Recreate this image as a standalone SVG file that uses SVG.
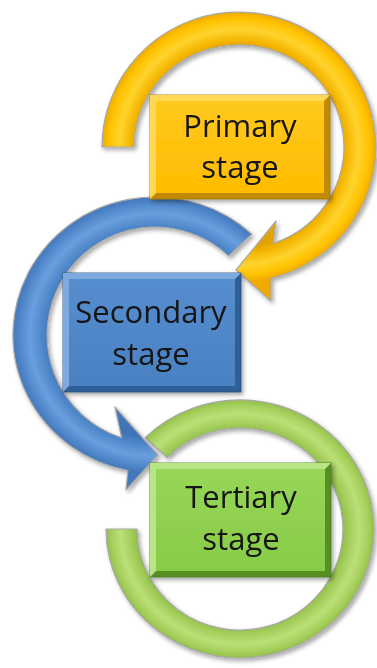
<svg xmlns="http://www.w3.org/2000/svg" width="377" height="668" viewBox="0 0 377 668">
  <style>
    .ring { stroke: #a9a9a9; stroke-width: 1.2; stroke-linejoin: round; }
    .label { font-family: "Open Sans", "Liberation Sans", sans-serif; font-size: 31px; fill: #141414; text-anchor: middle; }
    .edge { stroke-width: 0.8; }
  </style>
  <defs>
    <filter id="shadow" x="-10%" y="-10%" width="125%" height="125%">
      <feDropShadow dx="2" dy="2.5" stdDeviation="2" flood-color="#000" flood-opacity="0.35"/>
    </filter>
    <radialGradient id="gYellowRing" gradientUnits="userSpaceOnUse" cx="0" cy="0" r="1" gradientTransform="translate(239 147) scale(137 135)">
      <stop offset="0" stop-color="#F2B400"/>
      <stop offset="0.74" stop-color="#E3A200"/>
      <stop offset="0.79" stop-color="#F4B600"/>
      <stop offset="0.87" stop-color="#FFD32E"/>
      <stop offset="0.95" stop-color="#FFC300"/>
      <stop offset="1" stop-color="#EFAA00"/>
    </radialGradient>
    <radialGradient id="gBlueRing" gradientUnits="userSpaceOnUse" cx="0" cy="0" r="1" gradientTransform="translate(155 335) scale(142 138)">
      <stop offset="0" stop-color="#4A82C6"/>
      <stop offset="0.74" stop-color="#3E74B8"/>
      <stop offset="0.79" stop-color="#4C85C8"/>
      <stop offset="0.88" stop-color="#6A9FDD"/>
      <stop offset="0.95" stop-color="#5289CC"/>
      <stop offset="1" stop-color="#4378BA"/>
    </radialGradient>
    <radialGradient id="gGreenRing" gradientUnits="userSpaceOnUse" cx="0" cy="0" r="1" gradientTransform="translate(240 529) scale(134 129)">
      <stop offset="0" stop-color="#9CC852"/>
      <stop offset="0.76" stop-color="#8DBB44"/>
      <stop offset="0.81" stop-color="#A1CC58"/>
      <stop offset="0.89" stop-color="#BCDF78"/>
      <stop offset="0.96" stop-color="#A6CF5C"/>
      <stop offset="1" stop-color="#93C049"/>
    </radialGradient>
    <linearGradient id="gYellowBox" x1="0" y1="0" x2="0" y2="1">
      <stop offset="0" stop-color="#FFC91E"/>
      <stop offset="1" stop-color="#FFBC00"/>
    </linearGradient>
    <linearGradient id="gBlueBox" x1="0" y1="0" x2="0" y2="1">
      <stop offset="0" stop-color="#568DCF"/>
      <stop offset="1" stop-color="#4A81C3"/>
    </linearGradient>
    <linearGradient id="gGreenBox" x1="0" y1="0" x2="0" y2="1">
      <stop offset="0" stop-color="#97D657"/>
      <stop offset="1" stop-color="#88CC48"/>
    </linearGradient>
  </defs>

  <g id="connectors">
    <path id="arrow-tertiary" class="ring" filter="url(#shadow)" fill="url(#gGreenRing)"
      d="M 106,529 A 134 129 0 1 0 145.2,437.8 L 167.2,457.6 A 103 101 0 1 1 137,529 Z"/>
    <path id="arrow-secondary-to-tertiary" class="ring" filter="url(#shadow)" fill="url(#gBlueRing)"
      d="M 251.8,234.1 A 142 138 0 1 0 127.9,470.5 L 126,490 L 158,455 L 115,407 L 121.6,437.7 A 108 108 0 1 1 228.7,256 Z"/>
    <path id="arrow-primary-to-secondary" class="ring" filter="url(#shadow)" fill="url(#gYellowRing)"
      d="M 102,147 A 137 135 0 1 1 271,278.3 L 271,301 L 236,270 L 276,221 L 273,243.5 A 105 102 0 1 0 134,147 Z"/>
  </g>

  <g id="node-primary" filter="url(#shadow)">
    <rect x="150" y="95" width="180" height="104" fill="#C28A00" class="edge" stroke="#A47500"/>
    <polygon points="150,95 330,95 324,101 156,101 156,193 150,199" fill="#FFD957"/>
    <rect x="156" y="101" width="168" height="92" fill="url(#gYellowBox)"/>
    <text class="label" x="240" y="137">Primary</text>
    <text class="label" x="240" y="178">stage</text>
  </g>

  <g id="node-secondary" filter="url(#shadow)">
    <rect x="63" y="273" width="178" height="119" fill="#2F5E96" class="edge" stroke="#264E7E"/>
    <polygon points="63,273 241,273 235,279 69,279 69,386 63,392" fill="#7FAAE0"/>
    <rect x="69" y="279" width="166" height="107" fill="url(#gBlueBox)"/>
    <text class="label" x="151" y="323">Secondary</text>
    <text class="label" x="151" y="365">stage</text>
  </g>

  <g id="node-tertiary" filter="url(#shadow)">
    <rect x="150" y="463" width="181" height="114" fill="#568F24" class="edge" stroke="#467A1C"/>
    <polygon points="150,463 331,463 325,469 156,469 156,571 150,577" fill="#B8E585"/>
    <rect x="156" y="469" width="169" height="102" fill="url(#gGreenBox)"/>
    <text class="label" x="241" y="508">Tertiary</text>
    <text class="label" x="241" y="550">stage</text>
  </g>
</svg>
